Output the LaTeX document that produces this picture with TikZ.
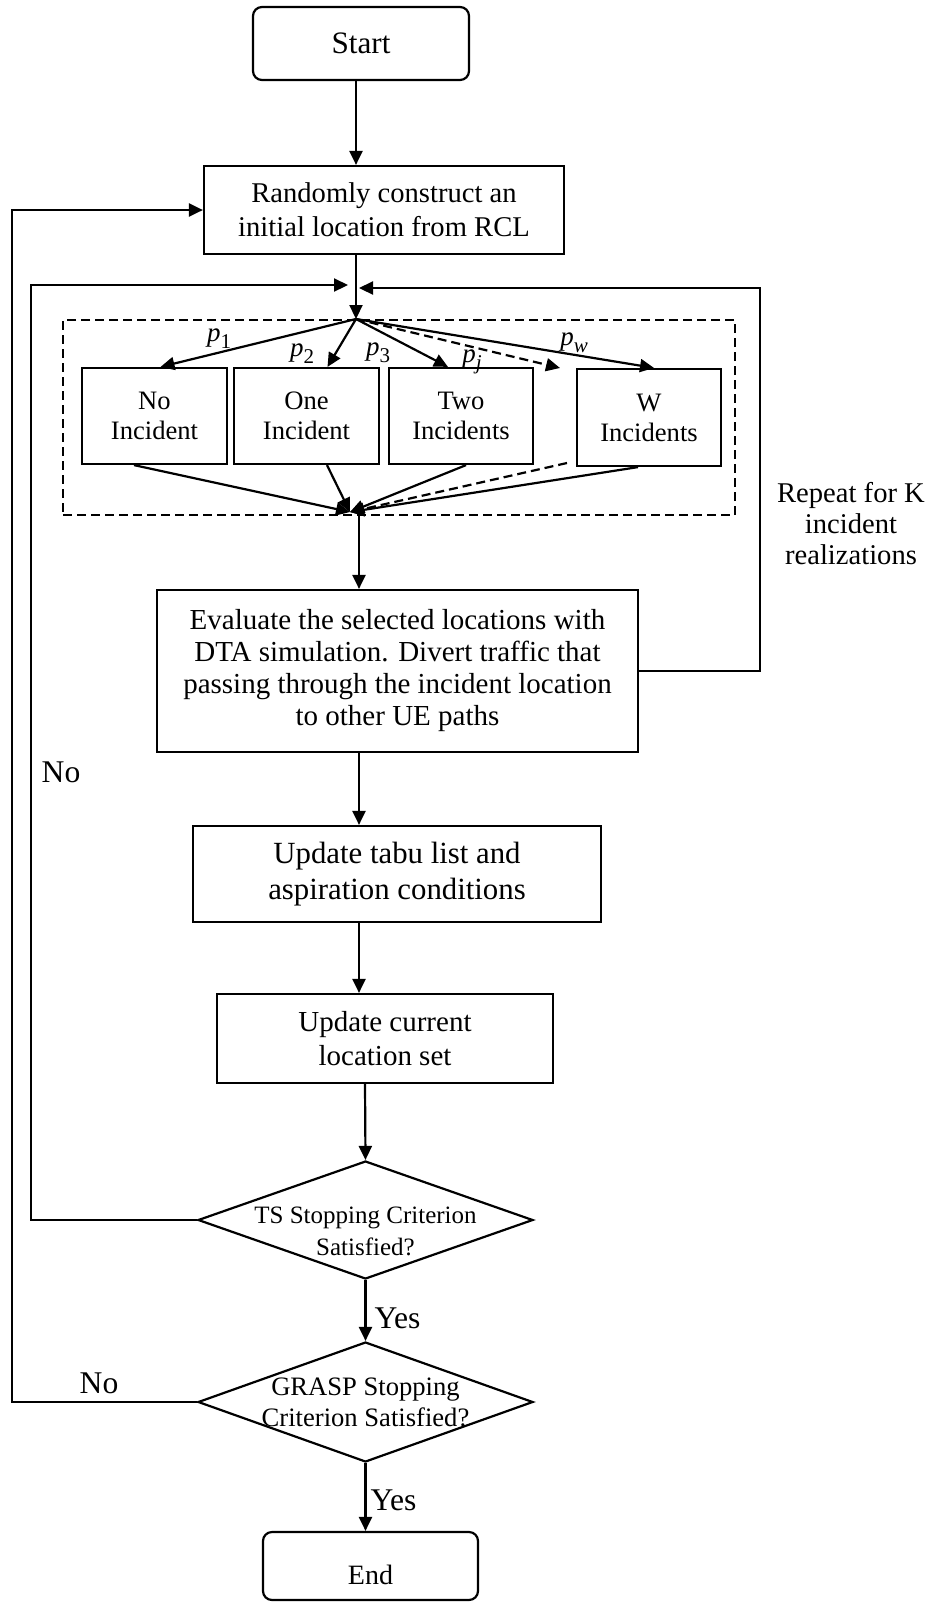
\documentclass[tikz,border=0pt]{standalone}
\usepackage{fontspec}
\setmainfont{Liberation Serif}
\usetikzlibrary{arrows.meta,shapes.geometric,calc}
% probability label: italic p with a lowered index
\newcommand{\probp}[1]{\textit{p}\raisebox{-0.55ex}{\fontsize{10.5pt}{11pt}\selectfont #1}}
\begin{document}
\begin{tikzpicture}[x=0.5pt,y=-0.5pt,
  line width=1.1pt,
  box/.style={draw, rectangle, align=center, inner sep=0pt},
  term/.style={box, rounded corners=4.5pt},
  choice/.style={draw, diamond, inner sep=0pt},
  flow/.style={-{Triangle[length=7pt,width=6.5pt]}},
  alt/.style={dash pattern=on 4.5pt off 2.5pt},
  lbl/.style={inner sep=0pt, align=center},
  frame/.style={draw, rectangle, line width=1pt, dash pattern=on 4.5pt off 2.5pt, inner sep=0pt},
  incbox/.style={box, minimum height=48pt, font=\fontsize{13.3pt}{15pt}\selectfont},
  plabel/.style={lbl, font=\fontsize{13.5pt}{15pt}\selectfont},
  yn/.style={lbl, font=\fontsize{15.8pt}{18pt}\selectfont},
]
\useasboundingbox (0,0) rectangle (933,1602);

% vertical guides for the main column
\coordinate (xa) at (356,0);
\coordinate (xb) at (359,0);
\coordinate (xc) at (365,0);

% main column
\node[term, minimum width=108pt, minimum height=36.5pt,
      font=\fontsize{15.6pt}{18pt}\selectfont] (start) at (361,43.5) {Start};
\node[box, minimum width=180pt, minimum height=44pt,
      font=\fontsize{14.3pt}{17pt}\selectfont] (rcl) at (384,210)
  {Randomly construct an\\initial location from RCL};

% incident scenarios
\node[frame, minimum width=336pt, minimum height=97.5pt] (fanbox) at (399,417.5) {};
\node[incbox, minimum width=72.5pt] (no)  at (154.5,416) {No\\Incident};
\node[incbox, minimum width=72.5pt] (one) at (306.5,416) {One\\Incident};
\node[incbox, minimum width=72pt]   (two) at (461,416)   {Two\\Incidents};
\node[incbox, minimum width=72pt, minimum height=48.5pt] (w) at (649,417.5) {W\\Incidents};
\coordinate (fanin) at (fanbox.north -| xa);
\coordinate (fanout) at (350,512);
\coordinate (pj) at (560,368);
\coordinate (pjback) at (567,463);

\node[plabel] (lp1) at (219,339) {\probp{1}};
\node[plabel] (lp2) at (302,354) {\probp{2}};
\node[plabel] (lp3) at (378,353) {\probp{3}};
\node[plabel] (lpj) at (472,362) {\probp{\textit{j}}};
\node[plabel] (lpw) at (574,343) {\probp{\textit{w}}};

\node[box, minimum width=240.5pt, minimum height=81pt,
      font=\fontsize{14.5pt}{16pt}\selectfont] (eval) at (397.5,671)
  {Evaluate the selected locations with\\DTA simulation. Divert traffic that\\passing through the incident location\\to other UE paths};
\node[box, minimum width=204pt, minimum height=48pt,
      font=\fontsize{15.4pt}{18pt}\selectfont] (tabu) at (397,874)
  {Update tabu list and\\aspiration conditions};
\node[box, minimum width=168pt, minimum height=44.5pt,
      font=\fontsize{14.5pt}{17pt}\selectfont] (cur) at (385,1038.5)
  {Update current\\location set};

\node[choice, minimum width=167.5pt, minimum height=59pt] (ts) at (365.5,1220) {};
\node[lbl, font=\fontsize{12.5pt}{16pt}\selectfont] (tstext) at (365.5,1231)
  {TS Stopping Criterion\\Satisfied?};
\node[choice, minimum width=167.5pt, minimum height=60pt] (grasp) at (365.5,1402) {};
\node[lbl, font=\fontsize{13.3pt}{15.5pt}\selectfont] (grtext) at (365.5,1402.5)
  {GRASP Stopping\\Criterion Satisfied?};

\node[term, minimum width=107.5pt, minimum height=34pt, text height=18pt, text depth=0pt,
      font=\fontsize{14pt}{16pt}\selectfont] (end) at (370.5,1566) {End};

% side labels
\node[lbl, font=\fontsize{14.3pt}{15.5pt}\selectfont] (repeat) at (851,524)
  {Repeat for K\\incident\\realizations};
\node[yn] (yes1) at (397.5,1318) {Yes};
\node[yn] (yes2) at (393.5,1500) {Yes};
\node[yn] (no1) at (61,772) {No};
\node[yn] (no2) at (99,1383) {No};

% loop entry points
\coordinate (inL) at (348,285);
\coordinate (inR) at (359,288);
\coordinate (cornerL) at (31,285);
\coordinate (cornerR) at (760,288);
\coordinate (cornerO) at (12,210);

% main flow
\draw[flow] (start.south -| xa) -- (rcl.north -| xa);
\draw[flow] (rcl.south -| xa) -- (fanin);
\draw[flow] (fanin) -- ($(no.north)+(6,0)$);
\draw[flow] (fanin) -- ($(one.north)+(21,0)$);
\draw[flow] (fanin) -- ($(two.north)+(-13,0)$);
\draw[flow, alt] (fanin) -- (pj);
\draw[flow] (fanin) -- ($(w.north)+(5,0)$);
\draw[flow] ($(no.south)+(-20.5,0)$) -- (fanout);
\draw[flow] ($(one.south)+(20.5,0)$) -- (fanout);
\draw[flow] ($(two.south)+(5,0)$) -- (fanout);
\draw[flow, alt] (pjback) -- (fanout);
\draw[flow] ($(w.south)+(-11,0)$) -- (fanout);
\draw[flow] (fanbox.south -| xb) -- (eval.north -| xb);
\draw[flow] (eval.south -| xb) -- (tabu.north -| xb);
\draw[flow] (tabu.south -| xb) -- (cur.north -| xb);
\draw[flow] (cur.south -| xc) -- (ts.north);
\draw[flow] (ts.south) -- (grasp.north);
\draw[flow] (grasp.south) -- (end.north -| grasp.south);

% loops
\draw[flow] (eval.east) -| (cornerR) -- (inR);
\draw[flow] (ts.west) -| (cornerL) -- (inL);
\draw[flow] (grasp.west) -| (cornerO) -- (rcl.west);
\end{tikzpicture}
\end{document}
